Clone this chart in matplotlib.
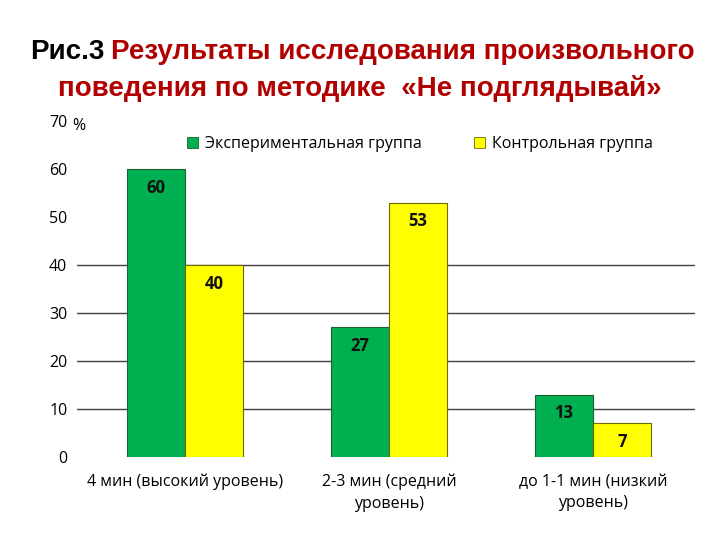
import matplotlib
matplotlib.use("Agg")
import matplotlib.pyplot as plt
import numpy as np
from matplotlib.patches import Patch

categories = ["4 мин (высокий уровень)", "2-3 мин (средний\nуровень)", "до 1-1 мин (низкий\nуровень)"]
experimental = [60, 27, 13]
control = [40, 53, 7]
series_names = ["Экспериментальная группа", "Контрольная группа"]
yticks = [0, 10, 20, 30, 40, 50, 60, 70]
grid_levels = [10, 20, 30, 40]

green = "#00B050"
yellow = "#FFFF00"
red = "#B00000"
body_font = ["Open Sans", "DejaVu Sans"]
title_font = ["Liberation Sans Narrow", "Liberation Sans", "DejaVu Sans"]

fig = plt.figure(figsize=(7.2, 5.4), dpi=100)
ax = fig.add_axes([0.107, 0.1537, 0.8583, 0.6223])

x = np.arange(len(categories))
w = 0.285
b1 = ax.bar(x - w / 2, experimental, w, color=green, edgecolor="#1f5f2f", linewidth=0.8, zorder=3)
b2 = ax.bar(x + w / 2, control, w, color=yellow, edgecolor="#6b6b00", linewidth=0.8, zorder=3)

# gridlines only for the lower levels, as in the picture
for g in grid_levels:
    ax.axhline(g, color="#404040", linewidth=1, zorder=1)

for bars, vals in [(b1, experimental), (b2, control)]:
    for r, v in zip(bars, vals):
        ax.text(r.get_x() + r.get_width() / 2, v - 2.0, str(v), ha="center", va="top",
                fontsize=12, fontweight="bold", family=body_font, color="#111111", zorder=4)

ax.set_xlim(-0.53, 2.5)
ax.set_ylim(0, 70)
ax.set_yticks(yticks)
ax.set_yticklabels([str(t) for t in yticks], family=body_font, fontsize=11.5)
ax.set_xticks(x)
ax.set_xticklabels(categories, family=body_font, fontsize=11.5, linespacing=1.45)
ax.tick_params(axis="y", length=0, pad=7)
ax.tick_params(axis="x", length=0, pad=12)
for s in ax.spines.values():
    s.set_visible(False)

fig.text(0.101, 0.766, "%", family=body_font, fontsize=11.5, ha="left", va="center")

handles = [Patch(facecolor=green, edgecolor="#1f5f2f", linewidth=0.6),
           Patch(facecolor=yellow, edgecolor="#6b6b00", linewidth=0.6)]
fig.legend(handles, series_names, loc="center", bbox_to_anchor=(0.583, 0.733), ncol=2,
           frameon=False, prop={"family": body_font, "size": 11.5},
           handlelength=0.7, handleheight=0.7, handletextpad=0.4, columnspacing=3.3)

# title: first word black, rest dark red
fig.canvas.draw()
renderer = fig.canvas.get_renderer()
t1 = fig.text(0.042, 0.904, "Рис.3", family=title_font, fontsize=20, fontweight="bold",
              color="black", ha="left", va="center")
bb = t1.get_window_extent(renderer)
x2 = (bb.x1 + 6) / fig.bbox.width
fig.text(x2, 0.904, "Результаты исследования произвольного", family=title_font, fontsize=20,
         fontweight="bold", color=red, ha="left", va="center")
fig.text(0.5, 0.836, "поведения по методике  «Не подглядывай»", family=title_font, fontsize=20,
         fontweight="bold", color=red, ha="center", va="center")

fig.savefig("out.png", dpi=100)
